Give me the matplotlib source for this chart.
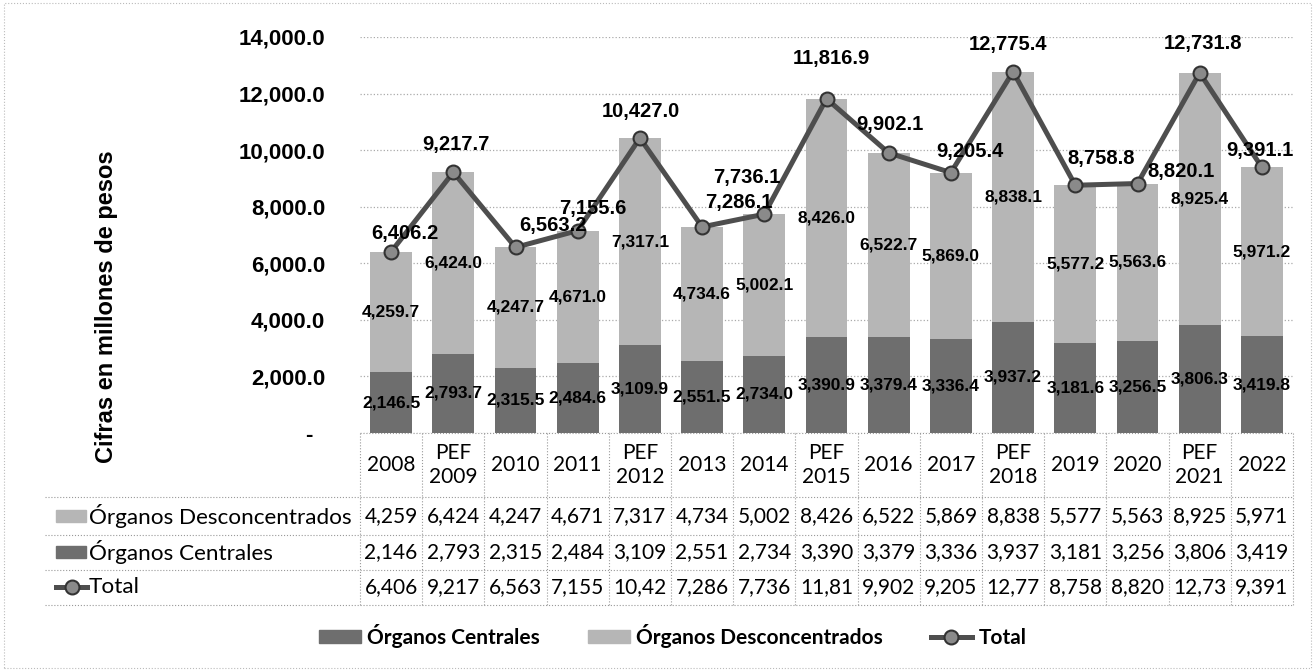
import matplotlib.pyplot as plt
from matplotlib.patches import Rectangle
from matplotlib.lines import Line2D

# datos (millones de pesos)
categorias = ['2008', 'PEF\n2009', '2010', '2011', 'PEF\n2012', '2013', '2014', 'PEF\n2015',
              '2016', '2017', 'PEF\n2018', '2019', '2020', 'PEF\n2021', '2022']
centrales = [2146.5, 2793.7, 2315.5, 2484.6, 3109.9, 2551.5, 2734.0, 3390.9,
             3379.4, 3336.4, 3937.2, 3181.6, 3256.5, 3806.3, 3419.8]
desconcentrados = [4259.7, 6424.0, 4247.7, 4671.0, 7317.1, 4734.6, 5002.1, 8426.0,
                   6522.7, 5869.0, 8838.1, 5577.2, 5563.6, 8925.4, 5971.2]
total = [6406.2, 9217.7, 6563.2, 7155.6, 10427.0, 7286.1, 7736.1, 11816.9,
         9902.1, 9205.4, 12775.4, 8758.8, 8820.1, 12731.8, 9391.1]

# desplazamiento de las etiquetas del total (pixeles)
offsets_total = [(14, 18), (3, 28), (38, 22), (15, 22), (1, 27), (37, 24), (-17, 37), (5, 40),
                 (1, 28), (19, 21), (-5, 27), (26, 27), (44, 12), (3, 29), (-2, 17)]

W, H = 1315, 671
fig = plt.figure(figsize=(W / 100, H / 100), dpi=100)


def fx(x):
    return x / W


def fy(y):
    return 1 - y / H


c_osc = '#6e6e6e'
c_cla = '#b6b6b6'
c_lin = '#4e4e4e'
arial = 'Liberation Sans'
calibri = 'Lato'

x0, x1, ytop, ybot = 360, 1293, 37, 433
ax = fig.add_axes([fx(x0), fy(ybot), (x1 - x0) / W, (ybot - ytop) / H])

n = len(categorias)
xs = list(range(n))
ax.bar(xs, centrales, width=0.675, color=c_osc, zorder=2)
ax.bar(xs, desconcentrados, bottom=centrales, width=0.675, color=c_cla, zorder=2)
ax.plot(xs, total, color=c_lin, lw=3.6, marker='o', ms=10, mfc='#8a8a8a',
        mec='#333333', mew=1.5, zorder=4)

ax.set_xlim(-0.5, n - 0.5)
ax.set_ylim(0, 14000)
ticks = list(range(0, 14001, 2000))
ax.set_yticks(ticks)
ax.set_yticklabels(['-  '] + ['{:,.1f}'.format(t) for t in ticks[1:]],
                   fontsize=16, fontweight='bold', family=arial)
ax.tick_params(axis='y', length=0, pad=25)
ax.set_xticks([])
for s in ax.spines.values():
    s.set_visible(False)
ax.grid(axis='y', ls=':', color='#aaaaaa', lw=0.9, zorder=0)

for i in xs:
    ax.text(i, centrales[i] / 2, '{:,.1f}'.format(centrales[i]), ha='center', va='center',
            fontsize=12.5, fontweight='bold', family=arial, zorder=5)
    ax.text(i, centrales[i] + desconcentrados[i] / 2, '{:,.1f}'.format(desconcentrados[i]),
            ha='center', va='center', fontsize=12.5, fontweight='bold', family=arial, zorder=5)
    dx, dy = offsets_total[i]
    ax.annotate('{:,.1f}'.format(total[i]), (i, total[i]), xytext=(dx, dy),
                textcoords='offset pixels', ha='center', va='center',
                fontsize=14.5, fontweight='bold', family=arial, zorder=6)

fig.text(fx(107), fy(307), 'Cifras en millones de pesos', rotation=90, ha='center',
         va='center', fontsize=17, fontweight='bold', family=arial)

# tabla de datos
col_w = (x1 - x0) / n
lab_left = 45
filas_y = [516, 552, 587]
bordes_y = [497, 535, 570, 605]
lin = dict(transform=fig.transFigure, ls=':', color='#999999', lw=0.8)
fig.add_artist(Line2D([fx(x0), fx(x1)], [fy(ybot), fy(ybot)], **lin))
for y in bordes_y:
    fig.add_artist(Line2D([fx(lab_left), fx(x1)], [fy(y), fy(y)], **lin))
for k in range(n + 1):
    xb = x0 + k * col_w
    fig.add_artist(Line2D([fx(xb), fx(xb)], [fy(ybot), fy(bordes_y[-1])], **lin))

for i, cat in enumerate(categorias):
    xc = x0 + (i + 0.5) * col_w
    fig.text(fx(xc), fy(465), cat, ha='center', va='center', fontsize=15,
             family=calibri, linespacing=1.25)
    filas = [desconcentrados[i], centrales[i], total[i]]
    for y, v in zip(filas_y, filas):
        fig.text(fx(xc), fy(y), '{:,}'.format(int(v))[:5], ha='center', va='center',
                 fontsize=15, family=calibri)

nombres = ['Órganos Desconcentrados', 'Órganos Centrales', 'Total']
tx = 89
for y, nombre in zip(filas_y, nombres):
    fig.text(fx(tx), fy(y), nombre, ha='left', va='center', fontsize=16.2, family=calibri)
for y, col in zip(filas_y[:2], [c_cla, c_osc]):
    fig.add_artist(Rectangle((fx(56), fy(y + 6)), 30 / W, 12 / H, transform=fig.transFigure,
                             color=col))
fig.add_artist(Line2D([fx(56), fx(87)], [fy(filas_y[2]), fy(filas_y[2])],
                      transform=fig.transFigure, color=c_lin, lw=3.6))
fig.add_artist(Line2D([fx(72)], [fy(filas_y[2])], transform=fig.transFigure, marker='o',
                      ms=10, mfc='#8a8a8a', mec='#333333', mew=1.5))

# leyenda
handles = [Rectangle((0, 0), 1, 1, color=c_osc), Rectangle((0, 0), 1, 1, color=c_cla),
           Line2D([], [], color=c_lin, lw=3.6, marker='o', ms=10, mfc='#8a8a8a',
                  mec='#333333', mew=1.5)]
fig.legend(handles, ['Órganos Centrales', 'Órganos Desconcentrados', 'Total'],
           loc='center', bbox_to_anchor=(fx(673), fy(636)), ncol=3, frameon=False,
           prop={'family': calibri, 'weight': 'bold', 'size': 15},
           handlelength=2.0, handleheight=0.6, handletextpad=0.3, columnspacing=2.3)

fig.add_artist(Rectangle((0.003, 0.004), 0.994, 0.992, transform=fig.transFigure,
                         fill=False, ls=':', color='#bbbbbb', lw=0.8))

fig.savefig('out.png', dpi=100)
